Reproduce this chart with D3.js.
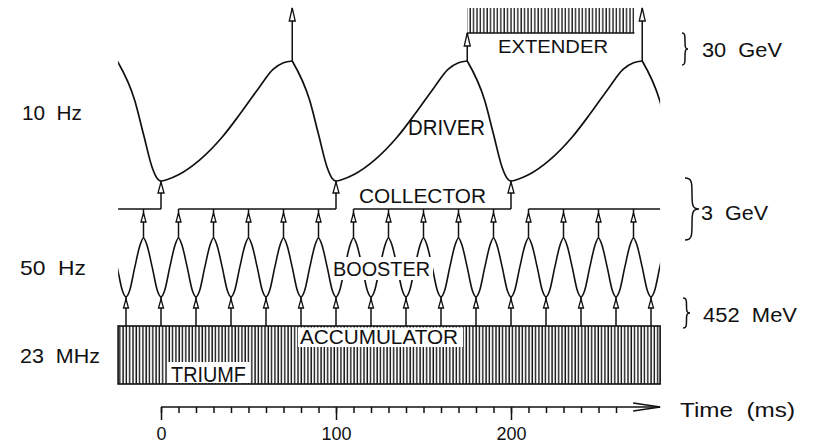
<!DOCTYPE html>
<html lang="en">
<head>
<meta charset="UTF-8">
<title>Timing</title>
<script src="https://d3js.org/d3.v7.min.js"></script>
<style>
  body { margin: 0; background: #fff; }
  text { font-family: "Liberation Sans", Arial, sans-serif; fill: #111; white-space: pre; }
</style>
</head>
<body>
<script>
// times in ms, energies in GeV
var tStart = -24.5, tEnd = 285.2;
var driverMinTimes = [-100, 0, 100, 200, 300];
var injectTimes = [0, 100, 200];          // collector -> driver
var extractTimes = [75, 175, 275];        // driver flat tops
var driverShapeT   = [-25, -15, -10, -5, -2, 0, 4, 10, 22, 35, 45, 56, 64, 70, 75];
var driverShapeGeV = [30, 21.1, 13.5, 6, 3.5, 3, 3.4, 4.4, 7.7, 12.9, 18, 24, 28.1, 29.6, 30];
var boosterMinTimes  = [-20, 0, 20, 40, 60, 80, 100, 120, 140, 160, 180, 200, 220, 240, 260, 280];
var boosterPeakTimes = [-10, 10, 30, 50, 70, 90, 110, 130, 150, 170, 190, 210, 230, 250, 270];
var boosterShapeT   = [0, 2, 5, 8, 10, 12, 15, 18];
var boosterShapeGeV = [0.452, 0.71, 1.73, 2.69, 3, 2.69, 1.73, 0.71];
var collectorSpans = [[tStart, 0], [10, 100], [110, 200], [210, tEnd]];
var extenderSpan = [175, 270.5];
var majorTicks = [0, 100, 200];
var minorTicks = [0, 10, 20, 30, 40, 50, 60, 70, 80, 90, 100, 110, 120, 130, 140, 150, 160, 170, 180, 190, 200, 210, 220, 230, 240, 250, 260];

var W = 817, H = 443, ink = "#111";
var svg = d3.select("body").append("svg").attr("width", W).attr("height", H);

var x = d3.scaleLinear().domain([0, 200]).range([161, 511]);
var yDriver = d3.scaleLinear().domain([3, 30]).range([181, 61]);
var yBooster = d3.scaleLinear().domain([0.452, 3]).range([297, 238]);

// row levels
var extenderTop = 8, extenderY = 33, collectorY = 209;
var accTop = 326, accBottom = 384, axisY = 407;

var defs = svg.append("defs");
defs.append("clipPath").attr("id", "clip").append("rect")
  .attr("x", x(tStart)).attr("y", 0).attr("width", x(tEnd) - x(tStart)).attr("height", H);
function comb(id, step, sw) {
  var p = defs.append("pattern").attr("id", id).attr("patternUnits", "userSpaceOnUse")
    .attr("width", step).attr("height", 20);
  p.append("line").attr("x1", 1).attr("x2", 1).attr("y1", 0).attr("y2", 20)
    .attr("stroke", ink).attr("stroke-width", sw);
}
comb("accComb", 3.3, 1.4);
comb("extComb", 3.4, 1.3);

function hline(t0, t1, y) {
  svg.append("line").attr("x1", x(t0)).attr("x2", x(t1)).attr("y1", y).attr("y2", y)
    .attr("stroke", ink).attr("stroke-width", 1.6);
}
function vline(t, y0, y1) {
  svg.append("line").attr("x1", x(t)).attr("x2", x(t)).attr("y1", y0).attr("y2", y1)
    .attr("stroke", ink).attr("stroke-width", 1.5);
}
// upward arrow: stem from yFrom to yTo, open head with tip at yTip
function arrow(t, yFrom, yTo, yTip, h, w) {
  vline(t, yFrom, yTo);
  var xx = x(t);
  svg.append("path")
    .attr("d", "M" + xx + "," + yTip + "L" + (xx + w / 2) + "," + (yTip + h) + "L" + (xx - w / 2) + "," + (yTip + h) + "Z")
    .attr("fill", "#fff").attr("stroke", ink).attr("stroke-width", 1.3);
}
function whiteBox(x0, y0, x1, y1) {
  svg.append("rect").attr("x", x0).attr("y", y0).attr("width", x1 - x0).attr("height", y1 - y0).attr("fill", "#fff");
}
function label(txt, xp, yp, size, len, anchor) {
  var t = svg.append("text").attr("x", xp).attr("y", yp).attr("font-size", size)
    .attr("text-anchor", anchor || "start").text(txt);
  if (len) t.attr("textLength", len).attr("lengthAdjust", "spacingAndGlyphs");
  return t;
}
function brace(xp, y0, y1, w) {
  var h = (y1 - y0) / 2, ym = y0 + h, m = xp + w * 0.5;
  var d = "M" + xp + "," + y0 +
    "C" + m + "," + y0 + " " + m + "," + (y0 + h * 0.15) + " " + m + "," + (y0 + h * 0.5) +
    "C" + m + "," + (ym - h * 0.15) + " " + m + "," + ym + " " + (xp + w) + "," + ym +
    "C" + m + "," + ym + " " + m + "," + (ym + h * 0.15) + " " + m + "," + (ym + h * 0.5) +
    "C" + m + "," + (y1 - h * 0.15) + " " + m + "," + y1 + " " + xp + "," + y1;
  svg.append("path").attr("d", d).attr("fill", "none").attr("stroke", ink).attr("stroke-width", 1.5);
}

// accumulator (23 MHz bunches)
svg.append("rect").attr("x", x(tStart)).attr("y", accTop)
  .attr("width", x(tEnd) - x(tStart)).attr("height", accBottom - accTop)
  .attr("fill", "url(#accComb)").attr("stroke", ink).attr("stroke-width", 1.6);
whiteBox(298, 327.5, 463, 347);
whiteBox(168, 362, 250, 383);

// extender slow-extraction comb
svg.append("rect").attr("x", x(extenderSpan[0])).attr("y", extenderTop)
  .attr("width", x(extenderSpan[1]) - x(extenderSpan[0])).attr("height", extenderY - extenderTop)
  .attr("fill", "url(#extComb)");
hline(extenderSpan[0], extenderSpan[1], extenderY);

// curves
var curves = svg.append("g").attr("clip-path", "url(#clip)");
var line = d3.line().x(function(d) { return x(d[0]); }).y(function(d) { return d[1]; })
  .curve(d3.curveMonotoneX);

driverMinTimes.forEach(function(m) {
  var pts = driverShapeT.map(function(t, i) { return [m + t, yDriver(driverShapeGeV[i])]; });
  curves.append("path").attr("d", line(pts)).attr("fill", "none")
    .attr("stroke", ink).attr("stroke-width", 1.7);
});

var cycles = [boosterMinTimes[0] - 20].concat(boosterMinTimes);
var bPts = [];
cycles.forEach(function(m) {
  boosterShapeT.forEach(function(t, i) { bPts.push([m + t, yBooster(boosterShapeGeV[i])]); });
});
bPts.push([cycles[cycles.length - 1] + 20, yBooster(boosterShapeGeV[0])]);
curves.append("path").attr("d", line(bPts)).attr("fill", "none")
  .attr("stroke", ink).attr("stroke-width", 1.6);
whiteBox(331, 257, 433, 280);

// collector stacking level
collectorSpans.forEach(function(s) { hline(s[0], s[1], collectorY); });

// transfers
boosterMinTimes.forEach(function(t) { arrow(t, accTop, yBooster(0.452), 299, 9, 5); });
boosterPeakTimes.forEach(function(t) { arrow(t, yBooster(3), collectorY, 213, 9, 5); });
injectTimes.forEach(function(t) { arrow(t, collectorY, yDriver(3), 182, 11, 6); });
extractTimes.forEach(function(t) {
  var inExt = t >= extenderSpan[0] && t <= extenderSpan[1];
  var top = inExt ? extenderY : extenderTop;
  arrow(t, yDriver(30), top, top, 13, 6);
});

// time axis
svg.append("line").attr("x1", x(0)).attr("x2", x(tEnd)).attr("y1", axisY).attr("y2", axisY)
  .attr("stroke", ink).attr("stroke-width", 1.5);
svg.append("path")
  .attr("d", "M" + (x(tEnd) - 27) + "," + (axisY - 4) + "L" + x(tEnd) + "," + axisY + "L" + (x(tEnd) - 27) + "," + (axisY + 4))
  .attr("fill", "none").attr("stroke", ink).attr("stroke-width", 1.5);
var minorAxis = svg.append("g").attr("transform", "translate(0," + axisY + ")")
  .call(d3.axisBottom(x).tickValues(minorTicks).tickSize(6).tickSizeOuter(0).tickFormat(""));
var majorAxis = svg.append("g").attr("transform", "translate(0," + axisY + ")")
  .call(d3.axisBottom(x).tickValues(majorTicks).tickSize(13).tickSizeOuter(0).tickPadding(7));
[minorAxis, majorAxis].forEach(function(g) {
  g.select(".domain").remove();
  g.selectAll(".tick line").attr("stroke", ink).attr("stroke-width", 1.5);
});
majorAxis.selectAll(".tick text").attr("font-size", 18).attr("font-family", "Liberation Sans, Arial, sans-serif")
  .attr("fill", ink);

// labels
label("10  Hz", 22, 120, 21, 60);
label("50  Hz", 20, 275, 21, 66);
label("23  MHz", 20, 363, 21, 80);
label("DRIVER", 408, 135, 22, 77);
label("EXTENDER", 498, 53, 19, 110);
label("COLLECTOR", 359, 203, 20, 127);
label("BOOSTER", 333, 276, 20, 97);
label("ACCUMULATOR", 300, 344, 21, 158);
label("TRIUMF", 171, 382, 22, 75);
label("30  GeV", 702, 57, 20, 80);
label("3  GeV", 701, 220, 20, 67);
label("452  MeV", 703, 322, 20, 94);
label("Time  (ms)", 680, 417, 20, 115);
brace(682, 33, 65, 6);
brace(685, 178, 240, 14);
brace(683, 298, 328, 7);
</script>
</body>
</html>
